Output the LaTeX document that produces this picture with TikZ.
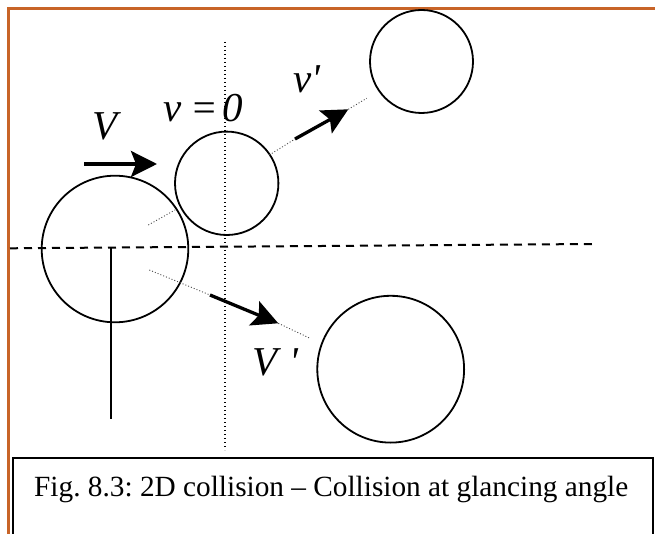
\documentclass[tikz,border=0pt]{standalone}
\usepackage{fontspec}
\setmainfont{Liberation Serif}
\usetikzlibrary{arrows.meta}
\definecolor{frameorange}{RGB}{200,100,40}
\frenchspacing

\begin{document}
\begin{tikzpicture}[x=1pt, y=-1pt,
  ball/.style={circle, draw=black, line width=1.8pt,
               inner sep=0pt, outer sep=0pt},
  lbl/.style={anchor=base west, inner sep=0pt,
              font=\fontsize{41}{41}\selectfont\itshape},
  arr/.style={-{Stealth[length=26pt, width=26pt, inset=5pt]}, line width=3.3pt},
  centreline/.style={line width=0.9pt, black!70, dash pattern=on 1pt off 2pt},
  axis/.style={line width=2pt, dash pattern=on 8pt off 6pt},
  plumb/.style={line width=1.4pt, dash pattern=on 1.4pt off 2.6pt}
]
\useasboundingbox (0,0) rectangle (655,534);
\draw[frameorange, line width=2.5pt] (8.3,534) -- (8.3,8.3) -- (655,8.3);

% axes
\coordinate (hl) at (10,248.3);  \coordinate (hr) at (592.7,244);
\coordinate (vt) at (225,42);    \coordinate (vb) at (225,450);
\draw[axis] (hl) -- (hr);
\draw[plumb] (vt) -- (vb);

% balls
\node[ball, minimum size=146.6pt] (big)      at (115,249)     {};
\node[ball, minimum size=103.4pt] (small)    at (226.7,183.3) {};
\node[ball, minimum size=103pt]   (smallout) at (421.5,61.5)  {};
\node[ball, minimum size=146.8pt] (bigout)   at (390.7,369.2) {};

\coordinate (stemtop) at (111,248); \coordinate (stembot) at (111,419.3);
\draw[line width=2pt] (stemtop) -- (stembot);

% lines of centres
\coordinate (a1) at (148.3,225);   \coordinate (a2) at (175,210);
\coordinate (b1) at (269.3,155);   \coordinate (b2) at (295,139);
\coordinate (b3) at (348.3,109.3); \coordinate (b4) at (366.7,98.3);
\coordinate (c1) at (149.3,270);   \coordinate (c2) at (210,295);
\coordinate (c3) at (278.3,323.3); \coordinate (c4) at (310,338.3);
\draw[centreline] (a1) -- (a2);
\draw[centreline] (b1) -- (b2); \draw[centreline] (b3) -- (b4);
\draw[centreline] (c1) -- (c2); \draw[centreline] (c3) -- (c4);

% velocities
\coordinate (v1) at (84,164); \coordinate (v2) at (157,164);
\draw[arr] (v1) -- (v2);
\draw[arr] (b2) -- (b3);
\draw[arr] (c2) -- (c3);

\node[lbl] (lV)  at (92,140)  {V};
\node[lbl] (lv)  at (163,122) {v\hspace{9pt}=\hspace{4pt}0};
\node[lbl] (lvp) at (293,93)  {v\textquotesingle};
\node[lbl] (lVp) at (252,375) {V\hspace{12pt}\textquotesingle};

% caption
\draw[line width=1.8pt] (13.3,534) -- (13.3,458.3) -- (652.7,458.3) -- (652.7,534);
\node[anchor=base west, inner sep=0pt, font=\fontsize{29.3}{29.3}\selectfont]
  (cap) at (34,496.7) {Fig. 8.3: 2D collision – Collision at glancing angle};
\end{tikzpicture}
\end{document}
